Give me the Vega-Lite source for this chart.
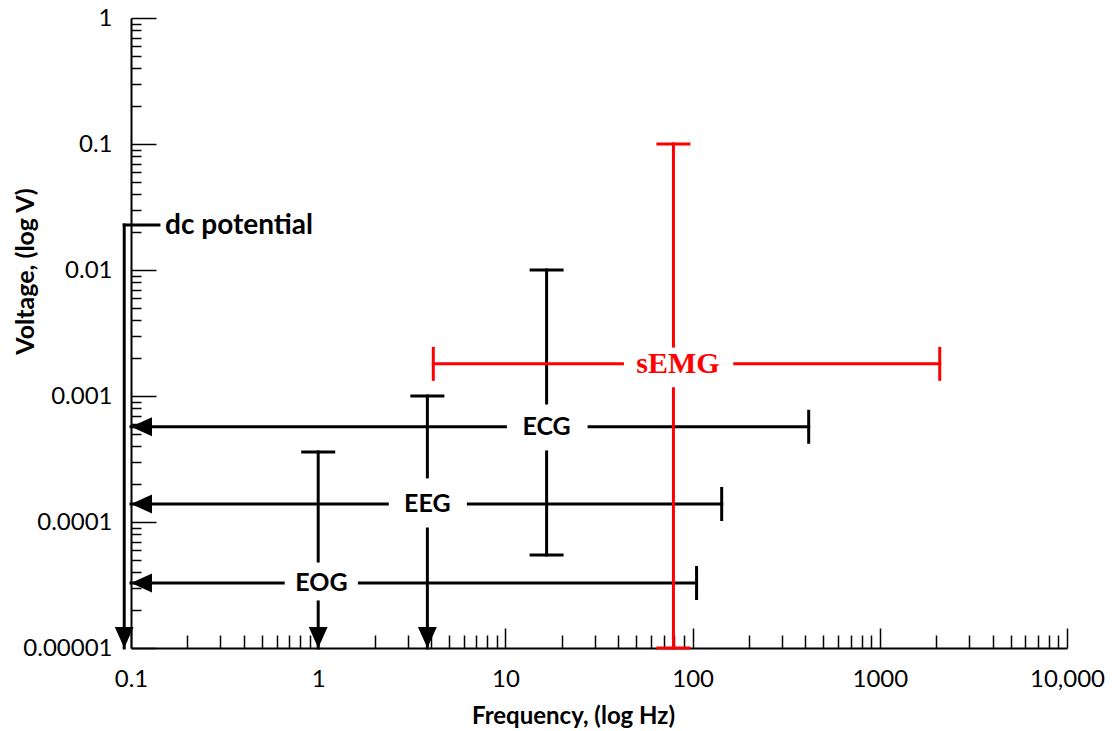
{
  "$schema": "https://vega.github.io/schema/vega-lite/v6.json",
  "width": 936,
  "height": 630,
  "autosize": {"type": "none"},
  "padding": {"left": 131, "top": 18, "right": 48, "bottom": 83},
  "background": "white",
  "config": {
    "view": {"stroke": null},
    "axis": {"grid": false, "domainColor": "black", "tickColor": "black", "labelColor": "black", "titleColor": "black", "labelFont": "Lato", "titleFont": "Lato"}
  },
  "datasets": {
    "segs": [
      {"s": "ECG", "x": 0.1, "x2": 10.0, "y": 0.00057, "y2": 0.00057},
      {"s": "ECG", "x": 28, "x2": 417, "y": 0.00057, "y2": 0.00057},
      {"s": "ECG", "x": 16.6, "x2": 16.6, "y": 0.01, "y2": 0.00088},
      {"s": "ECG", "x": 16.6, "x2": 16.6, "y": 0.00036, "y2": 0.0000547},
      {"s": "EEG", "x": 0.1, "x2": 2.34, "y": 0.000139, "y2": 0.000139},
      {"s": "EEG", "x": 6.34, "x2": 143, "y": 0.000139, "y2": 0.000139},
      {"s": "EEG", "x": 3.83, "x2": 3.83, "y": 0.001, "y2": 0.000228},
      {"s": "EEG", "x": 3.83, "x2": 3.83, "y": 0.000088, "y2": 0.00001},
      {"s": "EOG", "x": 0.1, "x2": 0.65, "y": 0.0000328, "y2": 0.0000328},
      {"s": "EOG", "x": 1.66, "x2": 105, "y": 0.0000328, "y2": 0.0000328},
      {"s": "EOG", "x": 1, "x2": 1, "y": 0.00036, "y2": 0.000049},
      {"s": "EOG", "x": 1, "x2": 1, "y": 0.0000232, "y2": 0.00001},
      {"s": "sEMG", "x": 4.12, "x2": 42.2, "y": 0.0018, "y2": 0.0018},
      {"s": "sEMG", "x": 168, "x2": 2090, "y": 0.0018, "y2": 0.0018},
      {"s": "sEMG", "x": 79, "x2": 79, "y": 0.1, "y2": 0.00249},
      {"s": "sEMG", "x": 79, "x2": 79, "y": 0.00114, "y2": 0.00001},
      {"s": "dc", "x": 0.092, "x2": 0.092, "y": 0.0228, "y2": 0.00001},
      {"s": "dc", "x": 0.092, "x2": 0.141, "y": 0.0228, "y2": 0.0228}
    ],
    "capsH": [
      {"s": "ECG", "x": 16.6, "y": 0.01},
      {"s": "ECG", "x": 16.6, "y": 0.0000547},
      {"s": "EEG", "x": 3.83, "y": 0.001},
      {"s": "EOG", "x": 1, "y": 0.00036},
      {"s": "sEMG", "x": 79, "y": 0.1},
      {"s": "sEMG", "x": 79, "y": 0.00001}
    ],
    "capsV": [
      {"s": "ECG", "x": 417, "y": 0.00057},
      {"s": "EEG", "x": 143, "y": 0.000139},
      {"s": "EOG", "x": 105, "y": 0.0000328},
      {"s": "sEMG", "x": 4.12, "y": 0.0018},
      {"s": "sEMG", "x": 2090, "y": 0.0018}
    ],
    "arrowsD": [
      {"s": "dc", "x": 0.092, "y": 0.00001},
      {"s": "EOG", "x": 1, "y": 0.00001},
      {"s": "EEG", "x": 3.83, "y": 0.00001}
    ],
    "arrowsL": [
      {"s": "ECG", "x": 0.1, "y": 0.00057},
      {"s": "EEG", "x": 0.1, "y": 0.000139},
      {"s": "EOG", "x": 0.1, "y": 0.0000328}
    ],
    "labels": [
      {"s": "ECG", "label": "ECG", "x": 16.6, "y": 0.00057},
      {"s": "EEG", "label": "EEG", "x": 3.83, "y": 0.000139},
      {"s": "EOG", "label": "EOG", "x": 1.04, "y": 0.0000328},
      {"s": "sEMG", "label": "sEMG", "x": 83.6, "y": 0.0018},
      {"s": "dc", "label": "dc potential", "x": 0.152, "y": 0.0225}
    ]
  },
  "resolve": {"axis": {"x": "independent", "y": "independent"}},
  "layer": [
    {
      "data": {"name": "segs"},
      "mark": {"type": "rule", "strokeWidth": 3, "strokeCap": "square", "clip": false},
      "encoding": {
        "x": {"field": "x", "type": "quantitative", "scale": {"type": "log", "domain": [0.1, 10000], "nice": false},
          "axis": {"orient": "bottom", "values": [0.1, 1, 10, 100, 1000, 10000], "ticks": false, "domainWidth": 2,
            "labelExpr": "['0.1','1','10','100','1000','10,000'][round(log(datum.value)/LN10)+1]",
            "labelFontSize": 24, "labelPadding": 19, "labelFlush": false, "labelOverlap": false,
            "title": "Frequency, (log Hz)", "titleFontSize": 24, "titleFontWeight": "bold", "titleX": 442, "titleY": 68, "titleBaseline": "middle", "titleAlign": "center"}},
        "x2": {"field": "x2"},
        "y": {"field": "y", "type": "quantitative", "scale": {"type": "log", "domain": [0.00001, 1], "nice": false},
          "axis": {"orient": "left", "values": [0.00001, 0.0001, 0.001, 0.01, 0.1, 1], "ticks": false, "domainWidth": 2,
            "labelExpr": "['0.00001','0.0001','0.001','0.01','0.1','1'][round(log(datum.value)/LN10)+5]",
            "labelFontSize": 24, "labelPadding": 19, "labelFlush": false, "labelOverlap": false,
            "title": "Voltage, (log V)", "titleFontSize": 25, "titleFontWeight": "bold", "titleX": -106, "titleY": 253, "titleBaseline": "middle", "titleAlign": "center", "titleAngle": -90}},
        "y2": {"field": "y2"},
        "color": {"field": "s", "type": "nominal", "scale": {"domain": ["sEMG", "ECG", "EEG", "EOG", "dc"], "range": ["#ff0000", "#000000", "#000000", "#000000", "#000000"]}, "legend": null}
      }
    },
    {
      "data": {"name": "capsH"},
      "mark": {"type": "tick", "orient": "horizontal", "size": 34, "thickness": 3, "opacity": 1, "clip": false},
      "encoding": {
        "x": {"field": "x", "type": "quantitative",
          "axis": {"orient": "bottom", "values": [0.1, 1, 10, 100, 1000, 10000], "labels": false, "domain": false, "tickSize": -20, "tickWidth": 1.5, "title": null}},
        "y": {"field": "y", "type": "quantitative",
          "axis": {"orient": "left", "values": [0.00001, 0.0001, 0.001, 0.01, 0.1, 1], "labels": false, "domain": false, "tickSize": -25, "tickWidth": 1.5, "title": null}},
        "color": {"field": "s", "type": "nominal", "scale": {"domain": ["sEMG", "ECG", "EEG", "EOG", "dc"], "range": ["#ff0000", "#000000", "#000000", "#000000", "#000000"]}, "legend": null}
      }
    },
    {
      "data": {"name": "capsV"},
      "mark": {"type": "tick", "orient": "vertical", "size": 34, "thickness": 3, "opacity": 1, "clip": false},
      "encoding": {
        "x": {"field": "x", "type": "quantitative",
          "axis": {"orient": "bottom", "values": [0.2, 0.3, 0.4, 0.5, 0.6, 0.7, 0.8, 0.9, 2, 3, 4, 5, 6, 7, 8, 9, 20, 30, 40, 50, 60, 70, 80, 90, 200, 300, 400, 500, 600, 700, 800, 900, 2000, 3000, 4000, 5000, 6000, 7000, 8000, 9000], "labels": false, "domain": false, "tickSize": -13, "tickWidth": 1.5, "title": null}},
        "y": {"field": "y", "type": "quantitative",
          "axis": {"orient": "left", "values": [0.00002, 0.00003, 0.00004, 0.00005, 0.00006, 0.00007, 0.00008, 0.00009, 0.0002, 0.0003, 0.0004, 0.0005, 0.0006, 0.0007, 0.0008, 0.0009, 0.002, 0.003, 0.004, 0.005, 0.006, 0.007, 0.008, 0.009, 0.02, 0.03, 0.04, 0.05, 0.06, 0.07, 0.08, 0.09, 0.2, 0.3, 0.4, 0.5, 0.6, 0.7, 0.8, 0.9], "labels": false, "domain": false, "tickSize": -10, "tickWidth": 1.5, "title": null}},
        "color": {"field": "s", "type": "nominal", "scale": {"domain": ["sEMG", "ECG", "EEG", "EOG", "dc"], "range": ["#ff0000", "#000000", "#000000", "#000000", "#000000"]}, "legend": null}
      }
    },
    {
      "data": {"name": "arrowsD"},
      "mark": {"type": "point", "shape": "M0,0L-0.9,-2L0.9,-2Z", "size": 440, "filled": true, "opacity": 1, "strokeWidth": 0, "clip": false},
      "encoding": {
        "x": {"field": "x", "type": "quantitative", "axis": null},
        "y": {"field": "y", "type": "quantitative", "axis": null},
        "color": {"field": "s", "type": "nominal", "scale": {"domain": ["sEMG", "ECG", "EEG", "EOG", "dc"], "range": ["#ff0000", "#000000", "#000000", "#000000", "#000000"]}, "legend": null}
      }
    },
    {
      "data": {"name": "arrowsL"},
      "mark": {"type": "point", "shape": "M0,0L2,-0.9L2,0.9Z", "size": 440, "filled": true, "opacity": 1, "strokeWidth": 0, "clip": false},
      "encoding": {
        "x": {"field": "x", "type": "quantitative", "axis": null},
        "y": {"field": "y", "type": "quantitative", "axis": null},
        "color": {"field": "s", "type": "nominal", "scale": {"domain": ["sEMG", "ECG", "EEG", "EOG", "dc"], "range": ["#ff0000", "#000000", "#000000", "#000000", "#000000"]}, "legend": null}
      }
    },
    {
      "data": {"name": "labels"},
      "transform": [{"filter": "datum.s === 'ECG' || datum.s === 'EEG' || datum.s === 'EOG'"}],
      "mark": {"type": "text", "font": "Lato", "fontSize": 25, "fontWeight": "bold", "align": "center", "baseline": "middle", "clip": false},
      "encoding": {
        "x": {"field": "x", "type": "quantitative", "axis": null},
        "y": {"field": "y", "type": "quantitative", "axis": null},
        "text": {"field": "label"},
        "color": {"value": "#000000"}
      }
    },
    {
      "data": {"name": "labels"},
      "transform": [{"filter": "datum.s === 'sEMG'"}],
      "mark": {"type": "text", "font": "Liberation Serif", "fontSize": 30, "fontWeight": "bold", "align": "center", "baseline": "middle", "clip": false},
      "encoding": {
        "x": {"field": "x", "type": "quantitative", "axis": null},
        "y": {"field": "y", "type": "quantitative", "axis": null},
        "text": {"field": "label"},
        "color": {"value": "#ff0000"}
      }
    },
    {
      "data": {"name": "labels"},
      "transform": [{"filter": "datum.s === 'dc'"}],
      "mark": {"type": "text", "font": "Lato", "fontSize": 28, "fontWeight": "bold", "align": "left", "baseline": "middle", "clip": false},
      "encoding": {
        "x": {"field": "x", "type": "quantitative", "axis": null},
        "y": {"field": "y", "type": "quantitative", "axis": null},
        "text": {"field": "label"},
        "color": {"value": "#000000"}
      }
    }
  ]
}
